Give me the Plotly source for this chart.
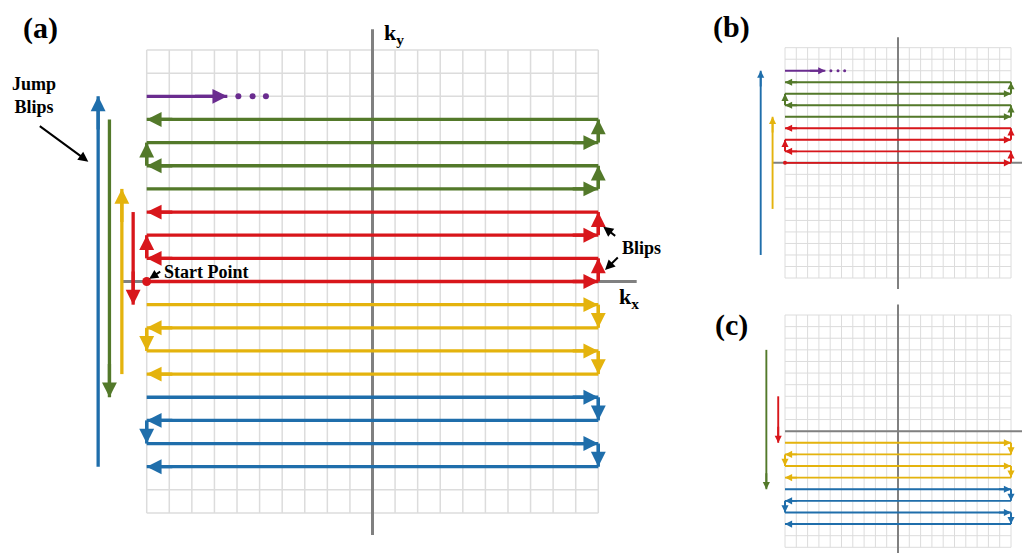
import plotly.graph_objects as go

# The page body has an 8px margin; the figure is sized and positioned to compensate.
OFF = 8
W, H = 1030 - OFF, 553 - OFF

# ---------------- data (k-space units, grid spans -10..10) ----------------
grid_ticks = list(range(-10, 11))
red_rows = [0, 1, 2, 3]
green_rows = [4, 5, 6, 7]
yellow_rows = [-1, -2, -3, -4]
blue_rows = [-5, -6, -7, -8]
row_dirs = [1, -1, 1, -1]          # +1: traversed toward +kx
purple_row = 8
purple_tip = -6.43
purple_dots_x = [-5.94, -5.31, -4.72]
start_point = (-10, 0)
jump_x = {"blue": -12.15, "green": -11.65, "yellow": -11.1, "red": -10.6}
jumps_a = [("blue", -8, 8), ("green", 7, -5), ("yellow", -4, 4), ("red", 3, -1)]
jumps_b = [("blue", -8, 8), ("yellow", -4, 4)]
jumps_c = [("green", 7, -5), ("red", 3, -1)]
ky_extent = (-10.95, 10.9)
kx_right = 11.7

COL = {"red": "#D8161B", "green": "#53792A", "yellow": "#E4B30D",
       "blue": "#1F6EAB", "purple": "#6A2C8F"}
GRID = "#DCDCDC"
AXIS = "#808080"
FONT = "Liberation Serif"

# ---------------- panel geometry (window pixels) ----------------
panels = [
    dict(xa="x", ya="y", grid=(146.7, 598.3, 50.0, 513.0), dom=(OFF, 690, OFF, 553),
         lw=3.3, gw=1.5, aw=3.0, hs=0.9, groups=["red", "green", "yellow", "blue"],
         jumps=jumps_a, purple=True, start=True, kx_left=-11.1, dot=6, sdot=9),
    dict(xa="x2", ya="y2", grid=(785.0, 1011.0, 47.7, 278.0), dom=(695, 1030, OFF, 296),
         lw=1.9, gw=1.0, aw=2.0, hs=0.75, groups=["red", "green"],
         jumps=jumps_b, purple=True, start=True, kx_left=-11.1, dot=3, sdot=4),
    dict(xa="x3", ya="y3", grid=(785.0, 1011.0, 315.0, 547.3), dom=(695, 1030, 296, 553),
         lw=1.9, gw=1.0, aw=2.0, hs=0.75, groups=["yellow", "blue"],
         jumps=jumps_c, purple=False, start=False, kx_left=-10.0, dot=3, sdot=4),
]
rows_of = {"red": red_rows, "green": green_rows, "yellow": yellow_rows, "blue": blue_rows}

fig = go.Figure()
annotations = []
layout_axes = {}


def head(p, tip, tail, color, w=None, size=None):
    annotations.append(dict(
        xref=p["xa"], yref=p["ya"], axref=p["xa"], ayref=p["ya"],
        x=tip[0], y=tip[1], ax=tail[0], ay=tail[1], text="", showarrow=True,
        arrowhead=2, arrowsize=size or p["hs"], arrowwidth=w or p["lw"],
        arrowcolor=color, standoff=0, startstandoff=0))


def line(p, xs, ys, color, width):
    fig.add_trace(go.Scatter(x=xs, y=ys, mode="lines", xaxis=p["xa"], yaxis=p["ya"],
                             line=dict(color=color, width=width), hoverinfo="skip",
                             showlegend=False))


for p in panels:
    gx0, gx1, gy0, gy1 = p["grid"]
    dx0, dx1, dy0, dy1 = p["dom"]
    ux = (gx1 - gx0) / 20
    uy = (gy1 - gy0) / 20
    xr = [-10 - (gx0 - dx0) / ux, -10 + (dx1 - gx0) / ux]
    yr = [10 - (dy1 - gy0) / uy, 10 + (gy0 - dy0) / uy]
    suffix = "" if p["xa"] == "x" else p["xa"][1:]
    layout_axes["xaxis" + suffix] = dict(domain=[(dx0 - OFF) / W, (dx1 - OFF) / W], range=xr,
                                         visible=False, anchor=p["ya"], fixedrange=True)
    layout_axes["yaxis" + suffix] = dict(domain=[1 - (dy1 - OFF) / H, 1 - (dy0 - OFF) / H],
                                         range=yr, visible=False, anchor=p["xa"],
                                         fixedrange=True)

    # grid
    gxs, gys = [], []
    for t in grid_ticks:
        gxs += [t, t, None, -10, 10, None]
        gys += [-10, 10, None, t, t, None]
    line(p, gxs, gys, GRID, p["gw"])

    # kx / ky axes
    line(p, [p["kx_left"], kx_right], [0, 0], AXIS, p["aw"])
    line(p, [0, 0], list(ky_extent), AXIS, p["aw"])

    # EPI rows with blips
    for g in p["groups"]:
        rows = rows_of[g]
        c = COL[g]
        for i, (yv, d) in enumerate(zip(rows, row_dirs)):
            line(p, [-10, 10], [yv, yv], c, p["lw"])
            end_x = 10 if d > 0 else -10
            head(p, (end_x, yv), (end_x - d * 1.2, yv), c)
            if i + 1 < len(rows):
                ny = rows[i + 1]
                line(p, [end_x, end_x], [yv, ny], c, p["lw"])
                head(p, (end_x, ny), (end_x, yv), c)

    # jump blips
    for g, y_from, y_to in p["jumps"]:
        jx = jump_x[g]
        line(p, [jx, jx], [y_from, y_to], COL[g], p["lw"])
        step = 1.5 if y_to > y_from else -1.5
        head(p, (jx, y_to), (jx, y_to - step), COL[g])

    # purple next-segment arrow
    if p["purple"]:
        line(p, [-10, purple_tip], [purple_row, purple_row], COL["purple"], p["lw"])
        head(p, (purple_tip, purple_row), (purple_tip - 1.5, purple_row), COL["purple"])
        fig.add_trace(go.Scatter(x=purple_dots_x, y=[purple_row] * len(purple_dots_x),
                                 mode="markers", xaxis=p["xa"], yaxis=p["ya"],
                                 marker=dict(color=COL["purple"], size=p["dot"]),
                                 hoverinfo="skip", showlegend=False))
    if p["start"]:
        fig.add_trace(go.Scatter(x=[start_point[0]], y=[start_point[1]], mode="markers",
                                 xaxis=p["xa"], yaxis=p["ya"],
                                 marker=dict(color=COL["red"], size=p["sdot"]),
                                 hoverinfo="skip", showlegend=False))


# ---------------- text labels & pointers (paper coords from window pixels) ----------------
def px(xp, yp):
    return (xp - OFF) / W, 1 - (yp - OFF) / H


def text(xp, yp, s, size, xanchor="center", yanchor="middle"):
    x, y = px(xp, yp)
    annotations.append(dict(xref="paper", yref="paper", x=x, y=y, text=s, showarrow=False,
                            xanchor=xanchor, yanchor=yanchor,
                            font=dict(family=FONT, size=size, color="black")))


def pointer(tip, tail, w=2.0, size=1.0):
    x, y = px(*tip)
    annotations.append(dict(xref="paper", yref="paper", x=x, y=y, text="", showarrow=True,
                            ax=tail[0] - tip[0], ay=tail[1] - tip[1], arrowhead=2,
                            arrowsize=size, arrowwidth=w, arrowcolor="black", standoff=0))


text(40, 28, "<b>(a)</b>", 30)
text(731, 27, "<b>(b)</b>", 30)
text(731, 325, "<b>(c)</b>", 30)
text(382, 34, "<b>k<sub>y</sub></b>", 22, xanchor="left")
text(617, 298, "<b>k<sub>x</sub></b>", 22, xanchor="left")
text(620, 248, "<b>Blips</b>", 18, xanchor="left")
text(162, 272, "<b>Start Point</b>", 18, xanchor="left")
text(34, 95, "<b>Jump<br>Blips</b>", 18)

pointer((88.3, 161.7), (38.3, 125.0))
pointer((149.3, 278.8), (161.7, 270.7), w=2.0, size=0.9)
pointer((603.3, 226.7), (616.7, 237.0))
pointer((605.0, 270.0), (619.3, 256.0))

fig.update_layout(width=W, height=H, margin=dict(l=0, r=0, t=0, b=0),
                  paper_bgcolor="white", plot_bgcolor="rgba(0,0,0,0)",
                  showlegend=False, annotations=annotations, **layout_axes)

fig.write_html("out.html")
